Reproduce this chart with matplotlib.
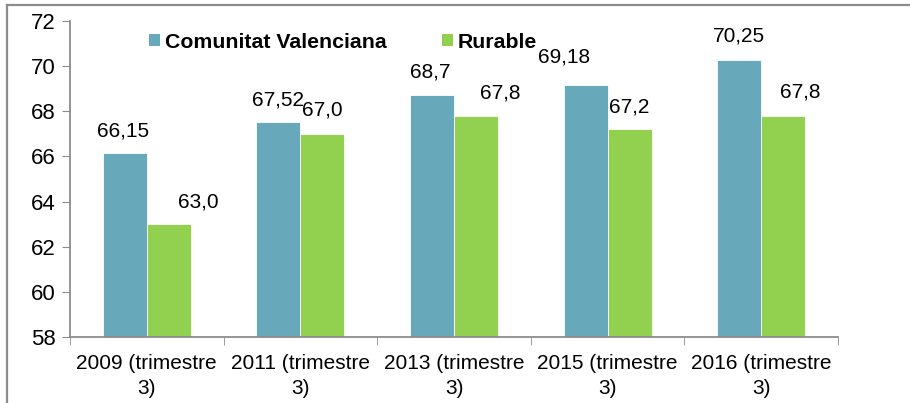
import numpy as np
import matplotlib
matplotlib.use("Agg")
import matplotlib.pyplot as plt
from matplotlib.lines import Line2D
from matplotlib.patches import Patch

plt.rcParams['font.family'] = ['Liberation Sans', 'DejaVu Sans']

# data
categories = ["2009 (trimestre\n3)", "2011 (trimestre\n3)", "2013 (trimestre\n3)",
              "2015 (trimestre\n3)", "2016 (trimestre\n3)"]
series_names = ["Comunitat Valenciana", "Rurable"]
valenciana = [66.15, 67.52, 68.7, 69.18, 70.25]
rurable = [63.0, 67.0, 67.8, 67.2, 67.8]

# label nudges in pixels (the original has hand-placed labels)
blue_dx = [-2, 0, -2, -21, 0]
blue_dy = [22, 22, 23, 28, 24]
green_dx = [29, 0, 24, 0, 17]
green_dy = [22, 24, 23, 22, 24]

BLUE = "#67A8BB"
GREEN = "#92D050"
GRAY = "#8C8C8C"

W, H = 910, 403
fig = plt.figure(figsize=(W / 100, H / 100), dpi=100)
ax = fig.add_axes([70 / W, (H - 337) / H, 768 / W, 316 / H])

x = np.arange(len(categories))
bw = 0.287
ax.bar(x - bw / 2, valenciana, bw, color=BLUE, edgecolor="white", linewidth=0.6, zorder=2)
ax.bar(x + bw / 2, rurable, bw, color=GREEN, edgecolor="white", linewidth=0.6, zorder=2)

for i, v in enumerate(valenciana):
    ax.annotate(f"{v:g}".replace(".", ","), (x[i] - bw / 2, v),
                xytext=(blue_dx[i], blue_dy[i]), textcoords="offset pixels",
                ha="center", va="center", fontsize=15)
for i, v in enumerate(rurable):
    ax.annotate(f"{v:.1f}".replace(".", ","), (x[i] + bw / 2, v),
                xytext=(green_dx[i], green_dy[i]), textcoords="offset pixels",
                ha="center", va="center", fontsize=15)

ax.set_ylim(58, 72)
ax.set_yticks(np.arange(58, 73, 2))
ax.set_xlim(-0.5, len(categories) - 0.5)
ax.set_xticks(x)
ax.set_xticklabels(categories, fontsize=15, linespacing=1.4)
ax.set_xticks(np.arange(-0.5, len(categories)), minor=True)
ax.tick_params(axis="x", which="major", length=0, pad=12)
ax.tick_params(axis="x", which="minor", length=6, color=GRAY, direction="out")
ax.tick_params(axis="y", labelsize=16, length=6, color=GRAY, pad=4)

for s in ("top", "right"):
    ax.spines[s].set_visible(False)
for s in ("left", "bottom"):
    ax.spines[s].set_color(GRAY)
    ax.spines[s].set_linewidth(1.3)

handles = [Patch(facecolor=BLUE), Patch(facecolor=GREEN)]
leg = ax.legend(handles, series_names, ncol=2, loc="center left",
                bbox_to_anchor=(79 / 768, (337 - 42) / 316), frameon=False,
                prop={"weight": "bold", "size": 15.3},
                handlelength=0.5, handleheight=0.5, handletextpad=0.25,
                columnspacing=2.6, borderaxespad=0, borderpad=0)

# outer chart frame (cropped)
fig.add_artist(Line2D([7 / W, 1], [1 - 4.5 / H, 1 - 4.5 / H], color=GRAY, lw=1.6))
fig.add_artist(Line2D([7 / W, 7 / W], [0, 1 - 4.5 / H], color=GRAY, lw=1.6))

fig.savefig("out.png", dpi=100)
